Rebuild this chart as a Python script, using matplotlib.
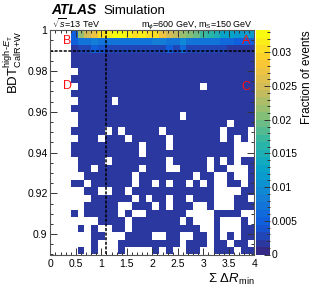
import numpy as np
import matplotlib
matplotlib.use("Agg")
import matplotlib.pyplot as plt
from matplotlib.colors import LinearSegmentedColormap, Normalize
from matplotlib.ticker import MultipleLocator, FixedLocator, FuncFormatter

plt.rcParams["font.family"] = ["Liberation Sans", "DejaVu Sans"]
plt.rcParams["mathtext.fontset"] = "custom"
plt.rcParams["mathtext.rm"] = "Liberation Sans"
plt.rcParams["mathtext.it"] = "Liberation Sans:italic"
plt.rcParams["mathtext.bf"] = "Liberation Sans:bold"

# binning: 30 x-bins on [0, 4], 30 y-bins on [0.89, 1.0]
x_edges = np.linspace(0.0, 4.0, 31)
y_edges = np.linspace(0.89, 1.0, 31)

# fraction of events, top three rows (y bin 29, 28, 27), columns 0..29
row_top = [0, 0, 0, 0.005, 0.022, 0.025, 0.027, 0.031, 0.032, 0.033,
           0.033, 0.032, 0.031, 0.032, 0.030, 0.030, 0.027, 0.025, 0.024, 0.022,
           0.020, 0.019, 0.017, 0.016, 0.015, 0.013, 0.013, 0.012, 0.012, 0.012]
row_2nd = [0, 0, 0, 0.005, 0.007, 0.007, 0.008, 0.007, 0.007, 0.007,
           0.007, 0.007, 0.007, 0.007, 0.007, 0.008, 0.008, 0.007, 0.007, 0.009,
           0.007, 0.007, 0.007, 0.007, 0.007, 0.006, 0.006, 0.005, 0.005, 0.005]
row_3rd = [0, 0, 0, 0.002, 0.003, 0.003, 0.005, 0.004, 0.003, 0.003,
           0.003, 0.003, 0.003, 0.003, 0.003, 0.003, 0.003, 0.005, 0.003, 0.006,
           0.003, 0.003, 0.003, 0.003, 0.003, 0.003, 0.002, 0.002, 0.002, 0.002]

# remaining rows, top to bottom: '#' = filled bin (~0.0012), '.' = empty
base_frac = 0.0012
rows_lower = [
    "...#######" "##########" "##########",
    "...#######" "##########" "##########",
    "....######" "##########" "##########",
    "...#######" "##########" "##########",
    "....######" "##########" "##.#######",
    "...#######" "##########" "##########",
    "....#####." "##########" "##########",
    "...#######" "##########" "##########",
    "....######" "#########." "##########",
    "....######" "##########" "######.###",
    "...#####.#" ".#####.###" "#####.###.",
    "....###.##" "#.#####.##" "#####.#.#.",
    "...#######" "###.###.##" "#######...",
    "...#######" "###.######" "#######...",
    "....####.#" "#######.##" "###.#.#.##",
    "....##.###" "###.###..#" "###.##...#",
    ".....#####" "##.#######" "#.##..#..#",
    "...##.####" "##.##.#.##" ".#.#..##.#",
    ".....##..#" "#.########" "####....##",
    "......####" "##.#.##.##" ".###...##.",
    ".....#####" "..###.#.##" "#..#...###",
    "...#.#####" ".#..######" "....####..",
    ".......###" "#.#######." "#...#...#.",
    "....#.#..#" "#.########" "##..#...##",
    "......##.." ".####..##." ".##.#.#.##",
    "......#..." "#########." "###.##.##.",
    "....#.#..." "#....#.#.." "##..###.##",
]

cut_x = 1.1
cut_y = 0.99

bird = [(0.2082, 0.1664, 0.5293), (0.0592, 0.3599, 0.8684), (0.0780, 0.5041, 0.8385),
        (0.0232, 0.6419, 0.7914), (0.1802, 0.7178, 0.6425), (0.5301, 0.7492, 0.4662),
        (0.8186, 0.7328, 0.3499), (0.9956, 0.7862, 0.1968), (0.9764, 0.9832, 0.0539)]
cmap = LinearSegmentedColormap.from_list("bird", bird, N=30)

# build the histogram (rows top -> bottom, then flip for pcolormesh)
grid = [row_top, row_2nd, row_3rd]
for r in rows_lower:
    grid.append([base_frac if c == "#" else 0.0 for c in r])
H = np.array(grid)[::-1]
H = np.ma.masked_where(H <= 0, H)

W, Hpx = 319, 304
fig = plt.figure(figsize=(W / 100, Hpx / 100), dpi=100)
ax = fig.add_axes([50.3 / W, 1 - 254.5 / Hpx, 204 / W, 224.3 / Hpx])

norm = Normalize(0, 0.0333)
mesh = ax.pcolormesh(x_edges, y_edges, H, cmap=cmap, norm=norm, edgecolors="none")

ax.plot([cut_x, cut_x], [y_edges[0], y_edges[-1]], color="black", lw=1.1,
        ls=(0, (2, 1)))
ax.plot([x_edges[0], x_edges[-1]], [cut_y, cut_y], color="black", lw=1.1,
        ls=(0, (2, 1)))

ax.set_xlim(x_edges[0], x_edges[-1])
ax.set_ylim(y_edges[0], y_edges[-1])

# region labels
for lab, xx, yy, ha in [("A", 3.93, 0.9948, "right"), ("B", 0.25, 0.9945, "left"),
                        ("C", 3.93, 0.9722, "right"), ("D", 0.25, 0.9724, "left")]:
    ax.text(xx, yy, lab, color="#ff1010", fontsize=9, ha=ha, va="center", zorder=5)

ax.xaxis.set_major_locator(MultipleLocator(0.5))
ax.xaxis.set_minor_locator(MultipleLocator(0.1))
ax.yaxis.set_major_locator(FixedLocator([0.9, 0.92, 0.94, 0.96, 0.98, 1.0]))
ax.yaxis.set_minor_locator(MultipleLocator(0.005))
fmt = FuncFormatter(lambda v, p: f"{v:g}")
ax.xaxis.set_major_formatter(fmt)
ax.yaxis.set_major_formatter(fmt)
ax.tick_params(which="both", direction="in", top=True, right=True,
               labelsize=7.5, color="#333333", width=0.7)
ax.tick_params(which="major", length=5)
ax.tick_params(which="minor", length=2.5)
ax.tick_params(axis="x", pad=3)
ax.tick_params(axis="y", pad=2)
for s in ax.spines.values():
    s.set_color("#555555")
    s.set_linewidth(0.8)

ax.set_xlabel(r"$\Sigma\ \Delta R_{\mathrm{min}}$", fontsize=9.5, loc="right",
              labelpad=2)
ax.set_ylabel(r"$\mathrm{BDT}^{\text{high-}E_{\text{T}}}_{\text{CalR+W}}$",
              fontsize=9.5, loc="top")
ax.yaxis.set_label_coords(-0.13, 1.0)

cax = fig.add_axes([256 / W, 1 - 254.5 / Hpx, 14 / W, 224.3 / Hpx])
cb = fig.colorbar(mesh, cax=cax)
cb.outline.set_visible(False)
cb.set_ticks([0, 0.005, 0.01, 0.015, 0.02, 0.025, 0.03])
cb.set_ticklabels(["0", "0.005", "0.01", "0.015", "0.02", "0.025", "0.03"])
cax.yaxis.set_minor_locator(MultipleLocator(0.001))
cax.tick_params(which="both", direction="in", labelsize=7.5, color="#333333",
                width=0.7, pad=1)
cax.tick_params(which="major", length=4.5)
cax.tick_params(which="minor", length=2.2)
fig.text(307 / W, 1 - 30 / Hpx, "Fraction of events", rotation=90,
         fontsize=8.5, ha="center", va="top")

fig.text(51.5 / W, 1 - 13.5 / Hpx, "ATLAS", fontsize=10, fontweight="bold",
         fontstyle="italic", ha="left", va="baseline")
fig.text(103 / W, 1 - 13.5 / Hpx, "Simulation", fontsize=9.5, ha="left",
         va="baseline")
fig.text(52 / W, 1 - 27.5 / Hpx, r"$\sqrt{s}$=13 TeV", fontsize=6.5, ha="left",
         va="baseline")
fig.text(253 / W, 1 - 27.5 / Hpx, r"m$_{\phi}$=600 GeV, m$_{\mathrm{S}}$=150 GeV",
         fontsize=6.5, ha="right", va="baseline")

fig.savefig("out.png", dpi=100, facecolor="white")
